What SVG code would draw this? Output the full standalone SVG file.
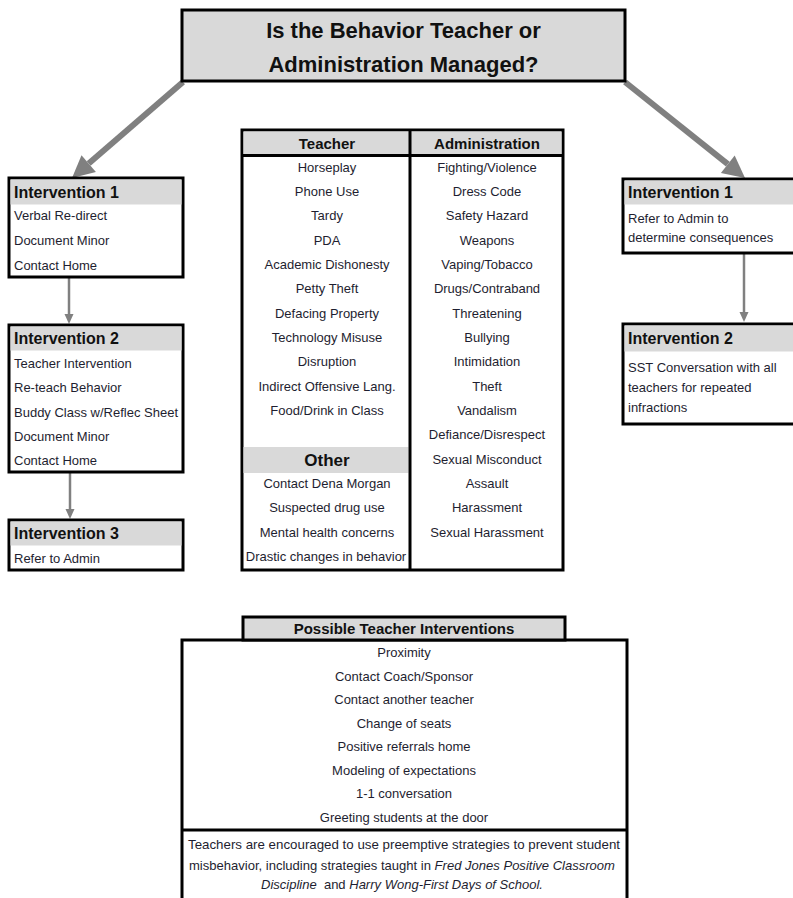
<svg xmlns="http://www.w3.org/2000/svg" width="793" height="898" viewBox="0 0 793 898">
<style>
.box{fill:#ffffff;stroke:#000000;stroke-width:3}
.hdr{fill:#d9d9d9}
.t{font-family:"Liberation Sans",Arial,sans-serif;font-size:13px;fill:#1e1e30}
.c{text-anchor:middle}
.h{font-family:"Liberation Sans",Arial,sans-serif;font-weight:bold;font-size:16px;fill:#111111}
.th{font-family:"Liberation Sans",Arial,sans-serif;font-weight:bold;font-size:15px;fill:#111111;text-anchor:middle}
.title{font-family:"Liberation Sans",Arial,sans-serif;font-weight:bold;font-size:22px;fill:#111111;text-anchor:middle}
.big{stroke:#808080;stroke-width:6;fill:none}
.thin{stroke:#808080;stroke-width:2.5;fill:none}
.ah{fill:#808080}
.ln{stroke:#000000;stroke-width:3}
</style>

<g id="connectors">
  <line class="big" x1="183" y1="82" x2="88.7" y2="163.6"/>
  <polygon class="ah" points="72,178 95.9,171.9 81.5,155.3"/>
  <line class="big" x1="625" y1="82" x2="727.8" y2="164.2"/>
  <polygon class="ah" points="745,178 720.9,172.9 734.7,155.6"/>
  <line class="thin" x1="69" y1="278" x2="69" y2="315"/>
  <polygon class="ah" points="69,324 64.5,314 73.5,314"/>
  <line class="thin" x1="70" y1="473" x2="70" y2="510"/>
  <polygon class="ah" points="70,519 65.5,509 74.5,509"/>
  <line class="thin" x1="744" y1="254" x2="744" y2="313"/>
  <polygon class="ah" points="744,322 739.5,312 748.5,312"/>
</g>

<g id="title">
  <rect x="182" y="10" width="443" height="71" fill="#d9d9d9" stroke="#000" stroke-width="3"/>
  <text class="title" x="403.5" y="38">Is the Behavior Teacher or</text>
  <text class="title" x="403.5" y="72">Administration Managed?</text>
</g>

<g id="left-int1">
  <rect class="box" x="9" y="178" width="174" height="99"/>
  <rect class="hdr" x="10.5" y="179.5" width="171" height="25"/>
  <text class="h" x="14" y="198">Intervention 1</text>
  <text class="t" x="14" y="220">Verbal Re-direct</text>
  <text class="t" x="14" y="245">Document Minor</text>
  <text class="t" x="14" y="270">Contact Home</text>
</g>

<g id="left-int2">
  <rect class="box" x="9" y="325" width="174" height="147"/>
  <rect class="hdr" x="10.5" y="326.5" width="171" height="24"/>
  <text class="h" x="14" y="344">Intervention 2</text>
  <text class="t" x="14" y="368">Teacher Intervention</text>
  <text class="t" x="14" y="392">Re-teach Behavior</text>
  <text class="t" x="14" y="417">Buddy Class w/Reflec Sheet</text>
  <text class="t" x="14" y="441">Document Minor</text>
  <text class="t" x="14" y="465">Contact Home</text>
</g>

<g id="left-int3">
  <rect class="box" x="9" y="520" width="174" height="50"/>
  <rect class="hdr" x="10.5" y="521.5" width="171" height="24"/>
  <text class="h" x="14" y="539">Intervention 3</text>
  <text class="t" x="14" y="563">Refer to Admin</text>
</g>

<g id="right-int1">
  <rect class="box" x="623" y="179" width="180" height="74"/>
  <rect class="hdr" x="624.5" y="180.5" width="177" height="24"/>
  <text class="h" x="628" y="198">Intervention 1</text>
  <text class="t" x="628" y="223">Refer to Admin to</text>
  <text class="t" x="628" y="242">determine consequences</text>
</g>

<g id="right-int2">
  <rect class="box" x="623" y="324" width="180" height="100"/>
  <rect class="hdr" x="624.5" y="325.5" width="177" height="26"/>
  <text class="h" x="628" y="344">Intervention 2</text>
  <text class="t" x="628" y="372">SST Conversation with all</text>
  <text class="t" x="628" y="392">teachers for repeated</text>
  <text class="t" x="628" y="412">infractions</text>
</g>

<g id="behavior-table">
  <rect class="box" x="242" y="130" width="321" height="440"/>
  <rect class="hdr" x="243.5" y="131.5" width="318" height="24"/>
  <rect class="hdr" x="243.5" y="447" width="165" height="26"/>
  <line class="ln" x1="242" y1="155.5" x2="563" y2="155.5"/>
  <line class="ln" x1="410" y1="130" x2="410" y2="570"/>
  <text class="th" x="327" y="149">Teacher</text>
  <text class="th" x="487" y="149">Administration</text>
  <text class="t c" x="327" y="172">Horseplay</text>
  <text class="t c" x="327" y="196">Phone Use</text>
  <text class="t c" x="327" y="220">Tardy</text>
  <text class="t c" x="327" y="245">PDA</text>
  <text class="t c" x="327" y="269">Academic Dishonesty</text>
  <text class="t c" x="327" y="293">Petty Theft</text>
  <text class="t c" x="327" y="318">Defacing Property</text>
  <text class="t c" x="327" y="342">Technology Misuse</text>
  <text class="t c" x="327" y="366">Disruption</text>
  <text class="t c" x="327" y="391">Indirect Offensive Lang.</text>
  <text class="t c" x="327" y="415">Food/Drink in Class</text>
  <text class="th" x="327" y="466" style="font-size:17px">Other</text>
  <text class="t c" x="327" y="488">Contact Dena Morgan</text>
  <text class="t c" x="327" y="512">Suspected drug use</text>
  <text class="t c" x="327" y="537">Mental health concerns</text>
  <text class="t c" x="326" y="561">Drastic changes in behavior</text>
  <text class="t c" x="487" y="172">Fighting/Violence</text>
  <text class="t c" x="487" y="196">Dress Code</text>
  <text class="t c" x="487" y="220">Safety Hazard</text>
  <text class="t c" x="487" y="245">Weapons</text>
  <text class="t c" x="487" y="269">Vaping/Tobacco</text>
  <text class="t c" x="487" y="293">Drugs/Contraband</text>
  <text class="t c" x="487" y="318">Threatening</text>
  <text class="t c" x="487" y="342">Bullying</text>
  <text class="t c" x="487" y="366">Intimidation</text>
  <text class="t c" x="487" y="391">Theft</text>
  <text class="t c" x="487" y="415">Vandalism</text>
  <text class="t c" x="487" y="439">Defiance/Disrespect</text>
  <text class="t c" x="487" y="464">Sexual Misconduct</text>
  <text class="t c" x="487" y="488">Assault</text>
  <text class="t c" x="487" y="512">Harassment</text>
  <text class="t c" x="487" y="537">Sexual Harassment</text>
</g>

<g id="possible-interventions">
  <rect class="box" x="182" y="640" width="445" height="270"/>
  <rect x="243" y="617" width="322" height="23" fill="#d9d9d9" stroke="#000" stroke-width="3"/>
  <text class="th" x="404" y="634">Possible Teacher Interventions</text>
  <text class="t c" x="404" y="657">Proximity</text>
  <text class="t c" x="404" y="681">Contact Coach/Sponsor</text>
  <text class="t c" x="404" y="704">Contact another teacher</text>
  <text class="t c" x="404" y="728">Change of seats</text>
  <text class="t c" x="404" y="751">Positive referrals home</text>
  <text class="t c" x="404" y="775">Modeling of expectations</text>
  <text class="t c" x="404" y="798">1-1 conversation</text>
  <text class="t c" x="404" y="822">Greeting students at the door</text>
  <line class="ln" x1="182" y1="830" x2="627" y2="830"/>
  <text class="t c" x="404" y="849" textLength="432" lengthAdjust="spacingAndGlyphs">Teachers are encouraged to use preemptive strategies to prevent student</text>
  <text class="t c" x="402" y="870" textLength="426" lengthAdjust="spacingAndGlyphs">misbehavior, including strategies taught in <tspan font-style="italic">Fred Jones Positive Classroom</tspan></text>
  <text class="t c" x="402" y="889" textLength="282" lengthAdjust="spacingAndGlyphs"><tspan font-style="italic">Discipline</tspan>&#160; and <tspan font-style="italic">Harry Wong-First Days of School.</tspan></text>
</g>
</svg>
